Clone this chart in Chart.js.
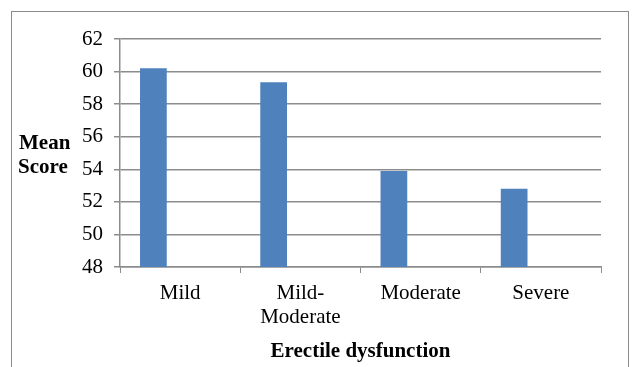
<!DOCTYPE html>
<html>
<head>
<meta charset="utf-8">
<script src="https://cdn.jsdelivr.net/npm/chart.js@4"></script>
<style>
  body { margin: 0; background: #fff; overflow: hidden; }
  #wrap { position: relative; width: 633px; height: 367px; }
  #frame { position: absolute; left: 11px; top: 11px; width: 616px; height: 400px; border: 1px solid #8a8a8a; }
  #score { position: absolute; left: 0; top: 0; }
</style>
</head>
<body>
<div id="wrap">
  <div id="frame"></div>
  <canvas id="score" width="633" height="367"></canvas>
</div>
<script>
const kategori = [["Mild"], ["Mild-", "Moderate"], ["Moderate"], ["Severe"]];
const nilaiMean = [60.2, 59.35, 53.9, 52.8];
const kosong1 = [null, null, null, null];
const kosong2 = [null, null, null, null];
const tickMin = 48;
const tickMax = 62;
const tickStep = 2;

const serif = "'Liberation Serif', 'Times New Roman', serif";
const abu = "#8c8c8c";

// judul sumbu Y ditulis mendatar, dua baris
const judulY = {
  id: "judulY",
  afterDraw(chart) {
    const ctx = chart.ctx;
    const mid = (chart.chartArea.top + chart.chartArea.bottom) / 2;
    ctx.save();
    ctx.font = "bold 21px " + serif;
    ctx.fillStyle = "#000";
    ctx.textAlign = "left";
    ctx.textBaseline = "middle";
    ctx.fillText("Mean", 19, mid - 9);
    ctx.fillText("Score", 18, mid + 15);
    ctx.restore();
  },
};

const scoreChart = new Chart(document.getElementById("score"), {
  type: "bar",
  data: {
    labels: kategori,
    datasets: [
      { label: "Mean Score", data: nilaiMean, backgroundColor: "#4F81BD" },
      { label: "", data: kosong1, backgroundColor: "#C0504D" },
      { label: "", data: kosong2, backgroundColor: "#9BBB59" },
    ],
  },
  options: {
    responsive: false,
    animation: false,
    barPercentage: 1,
    categoryPercentage: 0.667,
    layout: { padding: { left: 20, right: 32, top: 39, bottom: 3 } },
    plugins: {
      legend: { display: false },
      tooltip: { enabled: false },
    },
    scales: {
      x: {
        grid: {
          offset: true,
          drawOnChartArea: false,
          drawTicks: true,
          tickLength: 6,
          color: abu,
        },
        border: { color: abu, width: 1.5 },
        ticks: {
          color: "#000",
          font: { family: serif, size: 21, lineHeight: 1.15 },
          padding: 8,
          maxRotation: 0,
        },
        title: {
          display: true,
          text: "Erectile dysfunction",
          color: "#000",
          font: { family: serif, size: 21, weight: "bold" },
          padding: { top: 4, bottom: 0 },
        },
        afterFit(scale) { scale.height = 97; },
      },
      y: {
        min: tickMin,
        max: tickMax,
        ticks: {
          stepSize: tickStep,
          color: "#000",
          font: { family: serif, size: 21 },
          padding: 11,
        },
        grid: { color: abu, lineWidth: 1.5, tickLength: 6 },
        border: { color: abu, width: 1.5 },
        afterFit(scale) { scale.width = 100; },
      },
    },
  },
  plugins: [judulY],
});
</script>
</body>
</html>
